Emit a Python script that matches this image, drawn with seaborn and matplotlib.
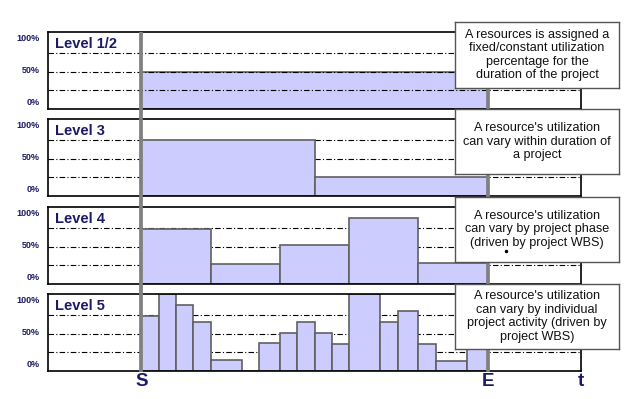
import matplotlib
matplotlib.use("Agg")
import matplotlib.pyplot as plt
from matplotlib.lines import Line2D
import numpy as np
import pandas as pd
import seaborn as sns

sns.set_style("white")
plt.rcParams["font.family"] = ["Liberation Sans", "DejaVu Sans"]

# time axis: S = 0, E = 100 (project duration in %)
levels = ["Level 1/2", "Level 3", "Level 4", "Level 5"]

l12_edges = [0, 100]
l12_util = [50]

l3_edges = [0, 50, 100]
l3_util = [75, 25]

l4_edges = [0, 20, 40, 60, 80, 100]
l4_util = [74, 27, 53, 89, 29]

l5_edges = [0, 5, 10, 15, 20, 29, 34, 40, 45, 50, 55, 60, 69, 74, 80, 85, 94, 100]
l5_util = [74, 104, 89, 66, 15, 0, 38, 51, 66, 51, 36, 104, 66, 81, 36, 14, 40]

notes = [
    "A resources is assigned a\nfixed/constant utilization\npercentage for the\nduration of the project",
    "A resource's utilization\ncan vary within duration of\na project",
    "A resource's utilization\ncan vary by project phase\n(driven by project WBS)",
    "A resource's utilization\ncan vary by individual\nproject activity (driven by\nproject WBS)",
]

time_marks = ["S", "E", "t"]
time_pos = [0, 100, 127]
tick_names = ["0%", "50%", "100%"]

navy = "#1a1a66"
bar_fill = "#ccccff"
bar_edge = "#606060"

W, H = 639, 399
fig = plt.figure(figsize=(W / 100, H / 100), dpi=100)

panel_px = [(32, 109), (119, 196), (207, 284), (294, 371)]
box_px = [(455, 22, 619, 88), (455, 109, 619, 174), (455, 197, 619, 262), (455, 284, 619, 349)]
all_edges = [l12_edges, l3_edges, l4_edges, l5_edges]
all_util = [l12_util, l3_util, l4_util, l5_util]

x0, x1 = 48, 581
axes = []
for i, (top, bot) in enumerate(panel_px):
    ax = fig.add_axes([x0 / W, 1 - bot / H, (x1 - x0) / W, (bot - top) / H])
    edges = np.array(all_edges[i], dtype=float)
    df = pd.DataFrame({"mid": (edges[:-1] + edges[1:]) / 2, "util": all_util[i]})
    # dash-dot guides sit on top of the bar only in the first panel
    line_z = 3 if i == 0 else 0.5
    for yv in [25, 50, 75]:
        ax.axhline(yv, color="black", lw=0.8, ls=(0, (5, 2, 1, 2)), zorder=line_z)
    sns.histplot(data=df, x="mid", weights="util", bins=list(all_edges[i]), ax=ax,
                 color=bar_fill, alpha=1, edgecolor=bar_edge, linewidth=1.2, zorder=2)
    ax.set_xlim(-27, 127)
    ax.set_ylim(0, 104)
    ax.set_xticks([])
    ax.set_yticks([])
    ax.set_xlabel("")
    ax.set_ylabel("")
    for s in ax.spines.values():
        s.set_visible(True)
        s.set_color("black")
        s.set_linewidth(1.2)
        s.set_zorder(4)
    ax.text(0.014, 0.84, levels[i], transform=ax.transAxes, fontsize=10.5,
            fontweight="bold", color=navy, va="center", ha="left")
    for lbl, yf in zip(tick_names, [0.08, 0.5, 0.91]):
        ax.text(-0.016, yf, lbl, transform=ax.transAxes, fontsize=6.5,
                fontweight="bold", color=navy, ha="right", va="center")
    axes.append(ax)

# S and E vertical markers across all panels
overlay = fig.add_axes([x0 / W, 1 - 372 / H, (x1 - x0) / W, (372 - 32) / H], zorder=5)
overlay.set_xlim(-27, 127)
overlay.set_ylim(0, 1)
overlay.axis("off")
overlay.patch.set_alpha(0)
for xv in time_pos[:2]:
    overlay.axvline(xv, color="#808080", lw=2.7)

for lab, xv in zip(time_marks, time_pos):
    xf = (x0 + (xv + 27) / 154 * (x1 - x0)) / W
    fig.text(xf, 1 - 382 / H, lab, fontsize=13.5, fontweight="bold", color=navy,
             ha="center", va="center")

# annotation boxes
for (bx0, by0, bx1, by1), txt in zip(box_px, notes):
    bax = fig.add_axes([bx0 / W, 1 - by1 / H, (bx1 - bx0) / W, (by1 - by0) / H], zorder=6)
    bax.set_xticks([])
    bax.set_yticks([])
    bax.set_facecolor("white")
    for s in bax.spines.values():
        s.set_color("#555555")
        s.set_linewidth(1.0)
    bax.text(0.5, 0.5, txt, ha="center", va="center", fontsize=9.1,
             color="#111111", linespacing=1.18, transform=bax.transAxes)

# stray dot seen in the third note box
fig.add_artist(Line2D([505.7 / W], [1 - 250.5 / H], marker="o", markersize=1.5,
                      color="black", transform=fig.transFigure, zorder=10))

fig.savefig("out.png", dpi=100)
